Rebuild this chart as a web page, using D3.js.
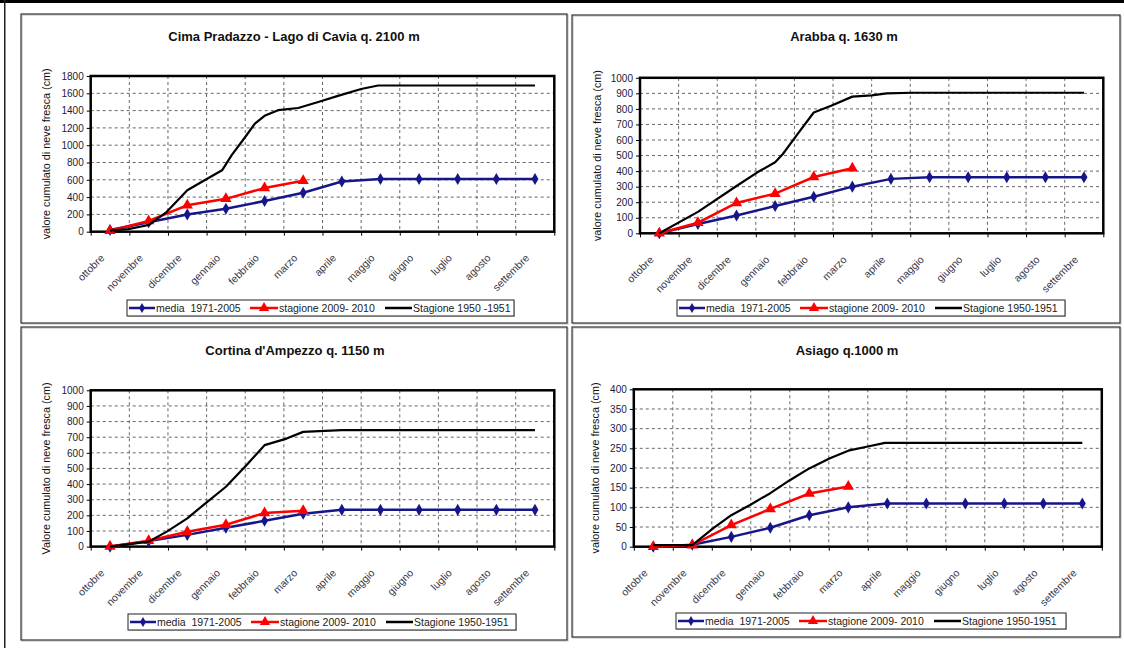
<!DOCTYPE html>
<html>
<head>
<meta charset="utf-8">
<script src="https://cdn.jsdelivr.net/npm/d3@7"></script>
<style>
  body { margin: 0; background: #fff; }
  svg { display: block; font-family: "Liberation Sans", Arial, sans-serif; }
</style>
</head>
<body>
<svg id="page" width="1124" height="648"></svg>
<script>
// months on the x axis
const months = ['ottobre', 'novembre', 'dicembre', 'gennaio', 'febbraio', 'marzo',
  'aprile', 'maggio', 'giugno', 'luglio', 'agosto', 'settembre'];

const legendNames = ['media  1971-2005', 'stagione 2009- 2010'];

// Cima Pradazzo - Lago di Cavia
const pradazzoMedia = [20, 110, 200, 265, 355, 450, 580, 610, 610, 610, 610, 610];
const pradazzoStagione = [10, 125, 305, 380, 505, 590];
const pradazzo1951Pos = [0, 0.47, 1, 1.47, 2, 2.47, 2.9, 3.15, 3.5, 3.75, 4, 4.35, 4.87, 5.39, 5.9, 6.5, 6.94, 11];
const pradazzo1951 = [12, 30, 77, 230, 480, 600, 710, 885, 1095, 1250, 1340, 1405, 1430, 1500, 1570, 1650, 1690, 1690];

// Arabba
const arabbaMedia = [0, 60, 115, 175, 235, 300, 350, 360, 360, 360, 360, 360];
const arabbaStagione = [0, 68, 195, 255, 362, 418];
const arabba1951Pos = [0, 1, 2, 2.52, 3, 3.2, 3.58, 4, 4.45, 5, 5.5, 5.89, 6.54, 11];
const arabba1951 = [0, 138, 304, 389, 457, 510, 638, 777, 820, 879, 887, 900, 904, 904];

// Cortina d'Ampezzo
const cortinaMedia = [0, 35, 75, 120, 165, 210, 235, 235, 235, 235, 235, 235];
const cortinaStagione = [0, 38, 95, 140, 215, 230];
const cortina1951Pos = [0, 1, 1.47, 2, 2.47, 3, 3.53, 4, 4.57, 5, 5.56, 6, 11];
const cortina1951 = [0, 32, 96, 181, 277, 383, 521, 649, 691, 734, 740, 745, 745];

// Asiago
const asiagoMedia = [0, 5, 25, 48, 80, 100, 110, 110, 110, 110, 110, 110];
const asiagoStagione = [0, 4, 55, 96, 135, 153];
const asiago1951Pos = [0, 1, 1.54, 2, 2.48, 3, 3.5, 4, 4.53, 5, 5.47, 5.94, 11];
const asiago1951 = [4, 4, 47, 80, 106, 136, 169, 199, 225, 244, 254, 264, 264];

class SnowChart {
  constructor(_config, _media, _stagione, _pos1951, _val1951) {
    this.config = _config;
    this.media = _media;
    this.stagione = _stagione;
    this.pos1951 = _pos1951;
    this.val1951 = _val1951;
    this.initVis();
  }

  initVis() {
    let vis = this;
    const c = vis.config;

    vis.svg = d3.select('#page');
    vis.g = vis.svg.append('g');

    vis.xBand = d3.scaleBand().domain(months).range([c.left, c.right]).padding(0);
    vis.bw = vis.xBand.bandwidth();
    vis.xPos = d3.scaleLinear().domain([0, 11])
      .range([vis.xBand(months[0]) + vis.bw / 2, vis.xBand(months[11]) + vis.bw / 2]);
    vis.xEdge = d3.scaleLinear().domain([0, 12]).range([c.left, c.right]);
    vis.yScale = d3.scaleLinear().domain([0, c.yMax]).range([c.bottom, c.top]);

    vis.renderVis();
  }

  renderVis() {
    let vis = this;
    const c = vis.config;
    const g = vis.g;
    const yTicks = d3.range(0, c.yMax + c.step, c.step);

    // panel frame
    g.append('rect')
      .attr('x', c.box[0] + 1).attr('y', c.box[1] + 1)
      .attr('width', c.box[2]).attr('height', c.box[3])
      .attr('fill', 'none').attr('stroke', '#bbb').attr('stroke-width', 1);
    g.append('rect')
      .attr('x', c.box[0]).attr('y', c.box[1])
      .attr('width', c.box[2]).attr('height', c.box[3])
      .attr('fill', 'none').attr('stroke', '#333').attr('stroke-width', 1.2);

    g.append('text')
      .attr('x', c.titleX).attr('y', c.titleY)
      .attr('text-anchor', 'middle')
      .attr('font-size', 13).attr('font-weight', 'bold').attr('fill', '#111')
      .text(c.title);

    // grid
    g.append('g').selectAll('line.h')
      .data(yTicks.slice(1, -1))
      .join('line')
      .attr('x1', c.left).attr('x2', c.right)
      .attr('y1', d => vis.yScale(d)).attr('y2', d => vis.yScale(d))
      .attr('stroke', '#666').attr('stroke-width', 1).attr('stroke-dasharray', '3,3');
    g.append('g').selectAll('line.v')
      .data(d3.range(1, 12))
      .join('line')
      .attr('x1', d => vis.xEdge(d)).attr('x2', d => vis.xEdge(d))
      .attr('y1', c.top).attr('y2', c.bottom)
      .attr('stroke', '#666').attr('stroke-width', 1).attr('stroke-dasharray', '3,3');

    // axes
    const yAxis = d3.axisLeft(vis.yScale).tickValues(yTicks).tickFormat(d3.format('d'))
      .tickSize(4).tickPadding(3);
    const yAxisG = g.append('g').attr('transform', `translate(${c.left},0)`).call(yAxis);
    yAxisG.select('.domain').remove();
    yAxisG.selectAll('text').attr('font-size', 10).attr('fill', '#1a1a3a')
      .attr('font-family', '"Liberation Sans", Arial, sans-serif');

    const tickAxis = d3.axisBottom(vis.xEdge).tickValues(d3.range(0, 13)).tickSize(4).tickFormat('');
    const tickG = g.append('g').attr('transform', `translate(0,${c.bottom})`).call(tickAxis);
    tickG.select('.domain').remove();

    const xAxis = d3.axisBottom(vis.xBand).tickSize(0);
    const xAxisG = g.append('g').attr('transform', `translate(0,${c.bottom})`).call(xAxis);
    xAxisG.select('.domain').remove();
    xAxisG.selectAll('text')
      .attr('x', 0).attr('y', 0).attr('dy', 0)
      .attr('text-anchor', 'end')
      .attr('transform', 'translate(-5,27) rotate(-45)')
      .attr('font-size', 10.5).attr('fill', '#3a3a4a')
      .attr('font-family', '"Liberation Sans", Arial, sans-serif');

    g.append('text')
      .attr('transform', `translate(${c.yTitleX},${(c.top + c.bottom) / 2}) rotate(-90)`)
      .attr('text-anchor', 'middle')
      .attr('font-size', 10.8).attr('fill', '#111')
      .text(c.yTitle);

    // plot border
    g.append('rect')
      .attr('x', c.left).attr('y', c.top)
      .attr('width', c.right - c.left).attr('height', c.bottom - c.top)
      .attr('fill', 'none').attr('stroke', '#000').attr('stroke-width', 2.5);

    // series
    const mediaLine = d3.line()
      .x((d, i) => vis.xBand(months[i]) + vis.bw / 2)
      .y(d => vis.yScale(d));
    const blackLine = d3.line()
      .x((d, i) => vis.xPos(vis.pos1951[i]))
      .y(d => vis.yScale(d));

    g.append('path').datum(vis.media)
      .attr('d', mediaLine).attr('fill', 'none')
      .attr('stroke', '#16168a').attr('stroke-width', 2.5);
    g.append('g').selectAll('path')
      .data(vis.media)
      .join('path')
      .attr('d', d3.symbol(d3.symbolDiamond, 42))
      .attr('transform', (d, i) => `translate(${vis.xBand(months[i]) + vis.bw / 2},${vis.yScale(d)})`)
      .attr('fill', '#16168a');

    g.append('path').datum(vis.stagione)
      .attr('d', mediaLine).attr('fill', 'none')
      .attr('stroke', '#ff0000').attr('stroke-width', 2.5);
    g.append('g').selectAll('path')
      .data(vis.stagione)
      .join('path')
      .attr('d', d3.symbol(d3.symbolTriangle, 55))
      .attr('transform', (d, i) => `translate(${vis.xBand(months[i]) + vis.bw / 2},${vis.yScale(d)})`)
      .attr('fill', '#ff0000');

    g.append('path').datum(vis.val1951)
      .attr('d', blackLine).attr('fill', 'none')
      .attr('stroke', '#000').attr('stroke-width', 2.2)
      .attr('stroke-linejoin', 'round');

    // legend
    const lg = g.append('g').attr('transform', `translate(${c.legend[0]},${c.legend[1]})`);
    lg.append('rect')
      .attr('x', 1).attr('y', 1).attr('width', c.legend[2]).attr('height', 16)
      .attr('fill', '#ccc');
    lg.append('rect')
      .attr('width', c.legend[2]).attr('height', 16)
      .attr('fill', '#fff').attr('stroke', '#222').attr('stroke-width', 1);
    const items = [
      {name: legendNames[0], color: '#16168a', x0: 2, x1: 28, text: 29, sym: d3.symbolDiamond, size: 30},
      {name: legendNames[1], color: '#ff0000', x0: 123, x1: 151, text: 152, sym: d3.symbolTriangle, size: 45},
      {name: c.blackName, color: '#000', x0: 258, x1: 285, text: 286, sym: null}
    ];
    items.forEach(it => {
      lg.append('line')
        .attr('x1', it.x0).attr('x2', it.x1).attr('y1', 8).attr('y2', 8)
        .attr('stroke', it.color).attr('stroke-width', 2.5);
      if (it.sym) {
        lg.append('path')
          .attr('d', d3.symbol(it.sym, it.size))
          .attr('transform', `translate(${(it.x0 + it.x1) / 2},8)`)
          .attr('fill', it.color);
      }
      lg.append('text')
        .attr('x', it.text).attr('y', 12)
        .attr('font-size', 10.5).attr('fill', '#222')
        .style('white-space', 'pre')
        .text(it.name);
    });
  }
}

// outer page frame
const page = d3.select('#page');
page.append('rect').attr('x', 0).attr('y', 0).attr('width', 1124).attr('height', 3).attr('fill', '#000');
page.append('rect').attr('x', 4).attr('y', 0).attr('width', 1.5).attr('height', 648).attr('fill', '#222');

new SnowChart({
  box: [21, 14, 546, 309], left: 90.7, right: 554.3, top: 76, bottom: 231.7,
  yMax: 1800, step: 200, title: 'Cima Pradazzo - Lago di Cavia q. 2100 m', titleX: 294, titleY: 41,
  yTitle: 'valore cumulato di neve fresca (cm)', yTitleX: 50,
  legend: [127, 300, 387], blackName: 'Stagione 1950 -1951'
}, pradazzoMedia, pradazzoStagione, pradazzo1951Pos, pradazzo1951);

new SnowChart({
  box: [572, 15, 548, 308], left: 640, right: 1103.3, top: 77.8, bottom: 233.3,
  yMax: 1000, step: 100, title: 'Arabba q. 1630 m', titleX: 844, titleY: 41,
  yTitle: 'valore cumulato di neve fresca (cm)', yTitleX: 601,
  legend: [677, 300, 388], blackName: 'Stagione 1950-1951'
}, arabbaMedia, arabbaStagione, arabba1951Pos, arabba1951);

new SnowChart({
  box: [21, 327, 546, 313], left: 90.7, right: 554.3, top: 390.3, bottom: 546.6,
  yMax: 1000, step: 100, title: "Cortina d'Ampezzo q. 1150 m", titleX: 295, titleY: 355,
  yTitle: 'Valore cumulato di neve fresca (cm)', yTitleX: 50,
  legend: [128, 614, 388], blackName: 'Stagione 1950-1951'
}, cortinaMedia, cortinaStagione, cortina1951Pos, cortina1951);

new SnowChart({
  box: [572, 327, 548, 310], left: 633.8, right: 1101.8, top: 389.3, bottom: 546.7,
  yMax: 400, step: 50, title: 'Asiago q.1000 m', titleX: 847, titleY: 355,
  yTitle: 'valore cumulato di neve fresca (cm)', yTitleX: 599,
  legend: [676, 613, 390], blackName: 'Stagione 1950-1951'
}, asiagoMedia, asiagoStagione, asiago1951Pos, asiago1951);
</script>
</body>
</html>
